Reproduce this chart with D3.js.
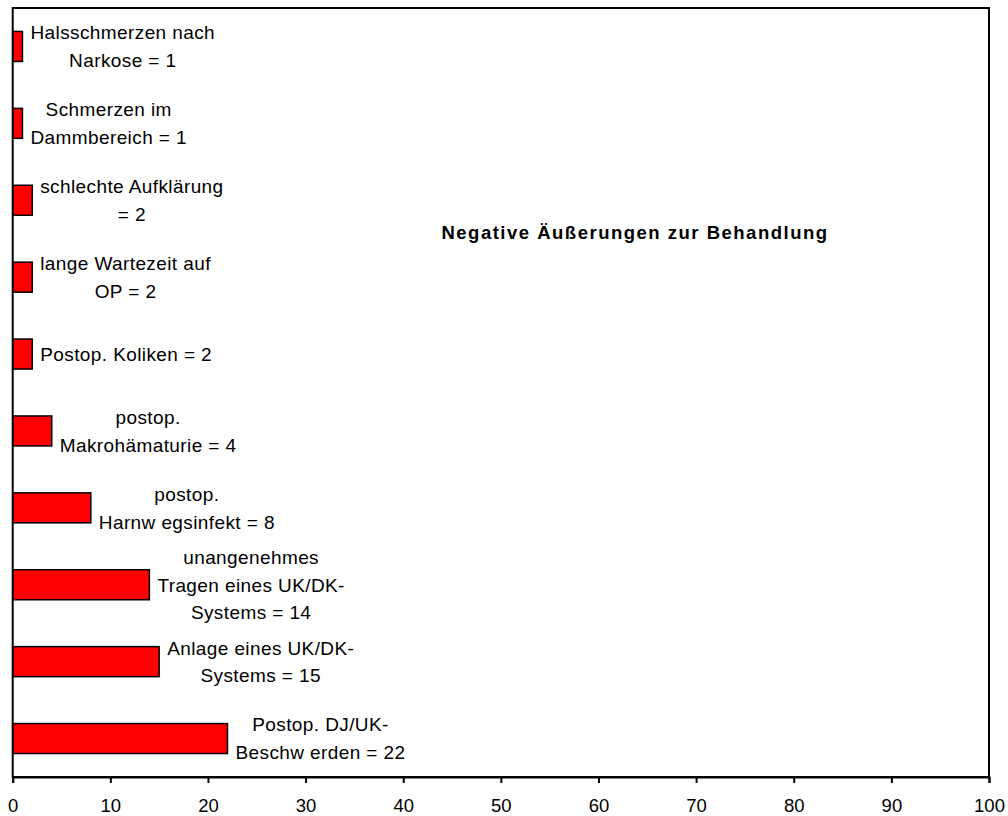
<!DOCTYPE html>
<html><head><meta charset="utf-8">
<script src="https://cdn.jsdelivr.net/npm/d3@7"></script>
<style>
html,body{margin:0;padding:0;background:#fff;}
svg text{font-family:"Liberation Sans",Arial,Helvetica,sans-serif;fill:#000;}
</style></head>
<body><svg id="c" width="1008" height="816"></svg>
<script>
const categories = ["Halsschmerzen nach Narkose","Schmerzen im Dammbereich","schlechte Aufklärung","lange Wartezeit auf OP","Postop. Koliken","postop. Makrohämaturie","postop. Harnwegsinfekt","unangenehmes Tragen eines UK/DK-Systems","Anlage eines UK/DK-Systems","Postop. DJ/UK-Beschwerden"];
const values = [1,1,2,2,2,4,8,14,15,22];
const labelLines = [
  ["Halsschmerzen nach","Narkose = 1"],
  ["Schmerzen im","Dammbereich = 1"],
  ["schlechte Aufklärung","= 2"],
  ["lange Wartezeit auf","OP = 2"],
  ["Postop. Koliken = 2"],
  ["postop.","Makrohämaturie = 4"],
  ["postop.","Harnw egsinfekt = 8"],
  ["unangenehmes","Tragen eines UK/DK-","Systems = 14"],
  ["Anlage eines UK/DK-","Systems = 15"],
  ["Postop. DJ/UK-","Beschw erden = 22"]
];
const xTicks = [0,10,20,30,40,50,60,70,80,90,100];
const title = "Negative Äußerungen zur Behandlung";

const svg = d3.select("#c");
const L = 12.7, R = 989, T = 8, B = 777;
const x = d3.scaleLinear().domain([0,100]).range([L,R]);
const y = d3.scaleBand().domain(categories).range([T,B]).paddingInner(0.61).paddingOuter(0.305);

// bars
svg.append("g").selectAll("rect").data(categories).join("rect")
  .attr("x", x(0))
  .attr("y", d=>y(d))
  .attr("width", (d,i)=>x(values[i])-x(0))
  .attr("height", y.bandwidth())
  .attr("fill","#ff0000")
  .attr("stroke","#000")
  .attr("stroke-width",1.5);

// frame
svg.append("rect").attr("x",L).attr("y",T).attr("width",R-L).attr("height",B-T)
  .attr("fill","none").attr("stroke","#000").attr("stroke-width",2);

// x axis
const ax = svg.append("g").attr("transform",`translate(0,${B})`)
  .call(d3.axisBottom(x).tickValues(xTicks).tickSize(6).tickPadding(16).tickFormat(d3.format("d")));
ax.select(".domain").attr("stroke","#000").attr("stroke-width",2);
ax.selectAll(".tick line").attr("stroke","#000").attr("stroke-width",2);
ax.selectAll("text").style("font-size","18.5px")
  .style("font-family","'Liberation Sans',Arial,sans-serif").attr("fill","#000");

// labels
const lineH = 27.8;
categories.forEach((c,i)=>{
  const lines = labelLines[i];
  const cy = y(c) + y.bandwidth()/2;
  const g = svg.append("g");
  const texts = lines.map((t,j)=> g.append("text")
      .attr("y", cy + (j-(lines.length-1)/2)*lineH)
      .attr("dy","0.36em")
      .attr("text-anchor","middle")
      .style("font-size","19px")
      .style("letter-spacing","0.4px")
      .text(t));
  const maxW = d3.max(texts, t=>t.node().getComputedTextLength());
  const cx = x(values[i]) + 8 + maxW/2;
  texts.forEach(t=>t.attr("x",cx));
});

svg.append("text").attr("x",635).attr("y",232).attr("dy","0.36em")
  .attr("text-anchor","middle").style("font-size","18.5px").style("font-weight","bold")
  .style("letter-spacing","1.5px").text(title);
</script></body></html>
